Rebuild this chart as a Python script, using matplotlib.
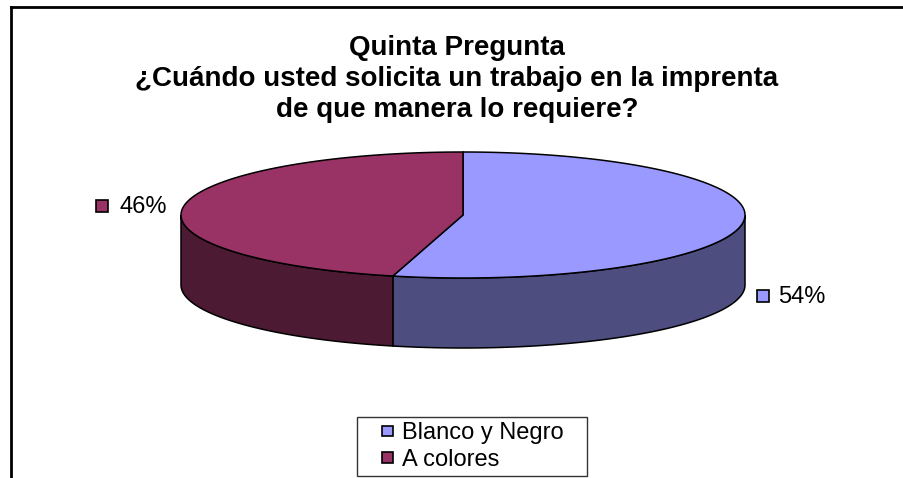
import numpy as np
import matplotlib
matplotlib.use('Agg')
import matplotlib.pyplot as plt
from matplotlib.patches import Polygon, Patch, Rectangle
from matplotlib.lines import Line2D
from matplotlib.legend_handler import HandlerPatch

# ---- datos ----
labels = ['Blanco y Negro', 'A colores']
values = [54, 46]
top_colors = ['#9999FF', '#993366']
side_colors = ['#4D4D80', '#4D1A33']
title_lines = ['Quinta Pregunta',
               '¿Cuándo usted solicita un trabajo en la imprenta',
               'de que manera lo requiere?']

# ---- geometría (pixeles) ----
W, H = 904, 478
cx, cy = 463, 215
rx, ry = 282, 63
depth = 70
start_angle = 90.0   # Excel: primera porción empieza arriba, sentido horario

plt.rcParams['font.family'] = ['Liberation Sans', 'DejaVu Sans']

fig = plt.figure(figsize=(W / 100, H / 100), dpi=100)
ax = fig.add_axes([0, 0, 1, 1])
ax.set_xlim(0, W)
ax.set_ylim(H, 0)
ax.axis('off')


def ell(theta_deg, dy=0.0):
    t = np.radians(theta_deg)
    return cx + rx * np.cos(t), cy - ry * np.sin(t) + dy


# angulos de cada porción (sentido horario desde arriba)
fracs = np.array(values) / np.sum(values)
bounds = []
a = start_angle
for f in fracs:
    bounds.append((a - 360 * f, a))
    a -= 360 * f

# lados (solo la mitad frontal: 180..360)
for (a0, a1), sc in zip(bounds, side_colors):
    for shift in (-360, 0, 360):
        lo = max(a0 + shift, 180)
        hi = min(a1 + shift, 360)
        if hi <= lo:
            continue
        th = np.linspace(lo, hi, 120)
        xs, ys = ell(th)
        xb, yb = ell(th[::-1], depth)
        pts = np.column_stack([np.r_[xs, xb], np.r_[ys, yb]])
        ax.add_patch(Polygon(pts, closed=True, facecolor=sc,
                             edgecolor='black', linewidth=1.1, zorder=2))

# tapas superiores
for (a0, a1), tc in zip(bounds, top_colors):
    th = np.linspace(a0, a1, 200)
    xs, ys = ell(th)
    pts = np.column_stack([np.r_[cx, xs], np.r_[cy, ys]])
    ax.add_patch(Polygon(pts, closed=True, facecolor=tc,
                         edgecolor='black', linewidth=1.1, zorder=3))

# etiquetas de porcentaje
for (a0, a1), v, tc in zip(bounds, values, top_colors):
    mid = (a0 + a1) / 2
    x, y = ell(mid)
    if np.sin(np.radians(mid)) < 0:
        y += depth + 4
    if np.cos(np.radians(mid)) < 0:
        mx, tx = x - 81, x - 64
    else:
        mx, tx = x + 20, x + 35
    ax.plot(mx, y - 1, marker='s', markersize=8.5, markerfacecolor=tc,
            markeredgecolor='black', markeredgewidth=1.2, zorder=4)
    ax.text(tx, y, f'{v}%', fontsize=17, ha='left', va='center', zorder=4)

# título
ax.text(W / 2 + 5, 79, '\n'.join(title_lines), fontsize=20, fontweight='bold',
        ha='center', va='center', linespacing=1.27)


# leyenda: cuadrito pequeño a la derecha del espacio del handle
def square_handle(legend, orig_handle, xdescent, ydescent, width, height, fontsize):
    s = 7.8
    return Rectangle((width - s - xdescent, -ydescent + (height - s) / 2), s, s)


handles = [Patch(facecolor=c, edgecolor='black', linewidth=1.2) for c in top_colors]
leg = ax.legend(handles, labels, loc='upper left', mode='expand',
                bbox_to_anchor=(357 / W, 1 - 475 / H, 230 / W, 58 / H),
                bbox_transform=fig.transFigure,
                fontsize=17, frameon=True, fancybox=False, borderpad=0.22,
                handlelength=1.3, handleheight=0.7, handletextpad=0.4,
                labelspacing=0.2, borderaxespad=0,
                handler_map={Patch: HandlerPatch(patch_func=square_handle)})
leg.get_frame().set_edgecolor('black')
leg.get_frame().set_linewidth(1.0)

# borde del área del gráfico (solo arriba e izquierda visibles)
fig.add_artist(Line2D([11 / W, 1], [1 - 7 / H, 1 - 7 / H], color='black', linewidth=2))
fig.add_artist(Line2D([11 / W, 11 / W], [1 - 7 / H, 0], color='black', linewidth=2))

fig.savefig('out.png', dpi=100)
